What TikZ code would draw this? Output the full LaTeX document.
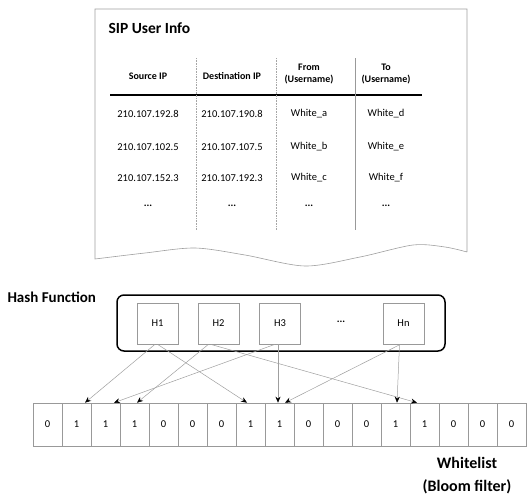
\documentclass[tikz,border=0pt]{standalone}
\usepackage{fontspec}
\setmainfont{Carlito}
\usetikzlibrary{arrows.meta}
\begin{document}
\begin{tikzpicture}[x=1pt,y=-1pt,
  doc/.style={draw=gray!75,line width=0.6pt},
  divider/.style={draw=gray!70,line width=0.6pt,densely dotted},
  hbox/.style={draw=gray!80,line width=0.6pt,minimum width=41pt,minimum height=41pt,inner sep=0pt,font=\fontsize{10.5}{12}\selectfont},
  cell/.style={draw=gray!80,line width=0.6pt,minimum width=29pt,minimum height=43pt,inner sep=0pt,font=\fontsize{10.5}{12}\selectfont},
  hdr/.style={font=\bfseries\fontsize{10}{12}\selectfont,align=center},
  dat/.style={font=\fontsize{10.5}{12}\selectfont},
  dotsx/.style={font=\bfseries\fontsize{10.5}{12}\selectfont},
  lbl/.style={font=\bfseries\fontsize{16}{23}\selectfont,align=center},
  link/.style={draw=gray!75,line width=0.5pt,-{Stealth[length=6pt,width=5pt,black]}}
]
\useasboundingbox (0,0) rectangle (529,495);

% document sheet with wavy bottom
\draw[doc] (467,252) -- (467,9) -- (95,9) -- (95,259)
  -- plot[smooth] coordinates {(95,259) (145,253) (195,248) (245,255) (305,266) (360,257) (413,245) (445,247) (467,252)};

\node[font=\bfseries\fontsize{15.5}{18}\selectfont,anchor=west] (title) at (105,28) {SIP User Info};

% table
\node[hdr] (h-src) at (148,76) {Source IP};
\node[hdr] (h-dst) at (232,76) {Destination IP};
\node[hdr] (h-from) at (309,74) {From\\(Username)};
\node[hdr] (h-to) at (386,74) {To\\(Username)};
\draw[line width=1.6pt] (110,95) -- (422,95);
\draw[divider] (196,58) -- (196,230);
\draw[divider] (276,58) -- (276,230);
\draw[draw=gray!80,line width=0.6pt] (355,58) -- (355,230);

\node[dat] (r1a) at (148,114) {210.107.192.8};
\node[dat] (r1b) at (232,114) {210.107.190.8};
\node[dat] (r1c) at (309,114) {White\_a};
\node[dat] (r1d) at (386,114) {White\_d};
\node[dat] (r2a) at (148,147) {210.107.102.5};
\node[dat] (r2b) at (232,147) {210.107.107.5};
\node[dat] (r2c) at (309,147) {White\_b};
\node[dat] (r2d) at (386,147) {White\_e};
\node[dat] (r3a) at (148,178) {210.107.152.3};
\node[dat] (r3b) at (232,178) {210.107.192.3};
\node[dat] (r3c) at (309,178) {White\_c};
\node[dat] (r3d) at (386,178) {White\_f};
\node[dotsx] (r4a) at (148,206) {...};
\node[dotsx] (r4b) at (232,206) {...};
\node[dotsx] (r4c) at (309,206) {...};
\node[dotsx] (r4d) at (386,206) {...};

% hash functions
\node[font=\bfseries\fontsize{15}{18}\selectfont,anchor=west] (hashlbl) at (4,297) {Hash Function};
\node[draw,line width=1.5pt,rounded corners=7pt,minimum width=328pt,minimum height=56pt] (hf) at (281,323) {};
\node[hbox] (h1) at (157.5,323.5) {H1};
\node[hbox] (h2) at (218.5,323.5) {H2};
\node[hbox] (h3) at (280,323.5) {H3};
\node[dotsx] (hdots) at (341,322) {...};
\node[hbox] (hn) at (403.5,323.5) {Hn};

% bloom filter
\foreach \v [count=\i from 0] in {0,1,1,1,0,0,0,1,1,0,0,0,1,1,0,0,0}
  \node[cell] (c\i) at ({47.5+29*\i},424.5) {\v};

\node[lbl] (wl) at (467,476) {Whitelist\\(Bloom filter)};

% mappings
\draw[link] ([xshift=-2.5pt]h1.south) -- ([xshift=8.5pt]c1.north);
\draw[link] (h1.south) -- ([xshift=-3.5pt]c7.north);
\draw[link] ([xshift=-10pt]h2.south) -- ([xshift=2.5pt]c3.north);
\draw[link] ([xshift=-8pt]h2.south) -- ([xshift=-7.5pt]c13.north);
\draw[link] ([xshift=-5pt]h3.south) -- ([xshift=8.5pt]c2.north);
\draw[link] ([xshift=-2pt]h3.south) -- ([xshift=-1.5pt]c8.north);
\draw[link] ([xshift=-3pt]hn.south) -- ([xshift=5.5pt]c8.north);
\draw[link] ([xshift=-4pt]hn.south) -- ([xshift=1.5pt]c12.north);
\end{tikzpicture}
\end{document}
